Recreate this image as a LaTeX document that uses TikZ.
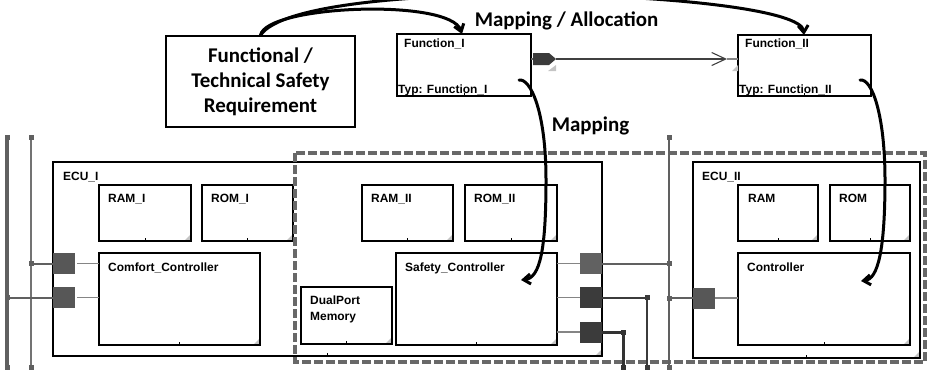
\documentclass[tikz,border=0pt]{standalone}
\usepackage{fontspec}
\setmainfont{Liberation Sans}
\newfontfamily\reqfont{Carlito}
\usetikzlibrary{arrows.meta,calc}

\definecolor{portgray}{HTML}{575757}
\definecolor{portdark}{HTML}{3B3B3B}
\definecolor{wiregray}{HTML}{606060}
\definecolor{wirelight}{HTML}{858585}
\definecolor{dashgray}{HTML}{686868}
\definecolor{cornergray}{HTML}{C4C4C4}

% rectangular block with a small tick at the middle of its bottom edge
\newcommand\mkbox[6][blk]{%
  \pgfmathsetmacro\boxw{#5-#3}\pgfmathsetmacro\boxh{#6-#4}%
  \node[#1, minimum width=\boxw bp, minimum height=\boxh bp, anchor=north west] (#2) at (#3,#4) {};
  \draw[blkline] (#2.south) -- ++(0,-3);
}
% light grey corner mark in the lower right corner
\newcommand\mkcorner[2]{\fill[cornergray] (#1-7,#2) -- (#1,#2-7) -- (#1,#2) -- cycle;}

\begin{document}
\begin{tikzpicture}[x=1bp,y=-1bp,
  blk/.style={draw=black, line width=1.3bp, inner sep=0, outer sep=0, rectangle},
  ecu/.style={blk, line width=1.6bp},
  blkline/.style={black, line width=1bp},
  lbl/.style={font=\fontsize{12}{13}\selectfont\bfseries, inner sep=0, anchor=base west},
  bigtxt/.style={font=\reqfont\fontsize{21}{25}\selectfont\bfseries, inner sep=0},
  maparrow/.style={line width=3bp, line cap=round, -{Straight Barb[length=7bp,width=10bp]}},
  portsq/.style={fill=portgray, draw=none, minimum width=22bp, minimum height=21bp, inner sep=0, outer sep=0},
  jdot/.style={fill=wiregray, draw=none, minimum size=5bp, inner sep=0, outer sep=0},
  wire/.style={draw=wiregray, line width=2bp},
  thinwire/.style={draw=wirelight, line width=1.6bp},
  dashbox/.style={draw=dashgray, line width=3.2bp, dash pattern=on 9bp off 3bp}
]
\useasboundingbox (0,0) rectangle (927,371);

% ---------- requirement and functions ----------
\node[draw=black, line width=1.4bp, minimum width=189bp, minimum height=91bp,
      align=center, bigtxt, inner sep=0] (req) at (260.5,81.5)
      {Functional /\\Technical Safety\\Requirement};

\mkbox{fi}{397}{34}{531}{96}
\node[lbl] at (404,47) {Function\_I};
\node[lbl] at (398,93) {Typ: Function\_I};

\mkbox{fii}{738}{35}{871}{96}
\node[lbl] at (745,47) {Function\_II};
\node[lbl] at (739,93) {Typ: Function\_II};

% output port of Function_I and the data flow to Function_II
\draw[wiregray, line width=1.2bp] (fi.east |- 0,59) -- (534,59);
\fill[portdark] (533,53) -- (549,53) -- (556,59) -- (549,65) -- (533,65) -- cycle;
\fill[cornergray] (548,71) -- (556,65) -- (556,71) -- cycle;
\coordinate (fiport) at (556,59);
\coordinate (fiiin) at (727,59);
\draw[black!75, line width=1.2bp, -{Straight Barb[length=14bp,width=13bp,line width=1.1bp]}] (fiport) -- (fiiin);
\draw[wirelight, line width=1.2bp] (fiiin) -- (fii.west |- fiiin);
\fill[cornergray] (732,71) -- (738,65) -- (738,71) -- cycle;

\node[bigtxt, anchor=base] at (566.5,26) {Mapping / Allocation};
\node[bigtxt, anchor=base] at (590.5,131) {Mapping};

% ---------- ECU_I ----------
\mkcorner{602}{356}
\mkbox[ecu]{ecua}{53}{162}{602}{356}
\node[lbl] at (63,180) {ECU\_I};

\mkcorner{191}{241}\mkbox{rama}{99}{185}{191}{241}
\node[lbl] at (108,202) {RAM\_I};
\mkcorner{293}{241}\mkbox{roma}{202}{185}{293}{241}
\node[lbl] at (211,202) {ROM\_I};
\mkcorner{260}{345}\mkbox{cc}{99}{253}{260}{345}
\node[lbl] at (108,271) {Comfort\_Controller};

\mkcorner{453}{241}\mkbox{ramb}{362}{185}{453}{241}
\node[lbl] at (371,202) {RAM\_II};
\mkcorner{557}{241}\mkbox{romb}{465}{185}{557}{241}
\node[lbl] at (474,202) {ROM\_II};
\mkcorner{557}{345}\mkbox{sc}{396}{253}{557}{345}
\node[lbl] at (405,271) {Safety\_Controller};
\mkcorner{392}{344}\mkbox{dpm}{301}{287}{392}{344}
\node[lbl] at (310,304) {DualPort};
\node[lbl] at (310,320) {Memory};

% ---------- ECU_II ----------
\mkcorner{920}{358}
\mkbox[ecu]{ecub}{693}{162}{920}{358}
\node[lbl] at (702,180) {ECU\_II};
\mkcorner{818}{241}\mkbox{ramc}{738}{185}{818}{241}
\node[lbl] at (748,202) {RAM};
\mkcorner{910}{241}\mkbox{romc}{830}{185}{910}{241}
\node[lbl] at (839,202) {ROM};
\mkcorner{910}{345}\mkbox{ctl}{738}{253}{910}{345}
\node[lbl] at (747,271) {Controller};

% ---------- deployment boundary ----------
\draw[dashbox] (295,153) rectangle (925,362);

% ---------- left buses ----------
\node[jdot] (la1) at (7,137) {};
\node[jdot] (la2) at (7,367) {};
\node[jdot] (lb1) at (31,137) {};
\node[jdot] (lb2) at (31,367) {};
\draw[wiregray, line width=3.6bp] (la1) -- (la2);
\draw[wire, draw=black!55] (lb1) -- (lb2);
\node[jdot] (lj1) at (31,263.5) {};
\node[jdot] (lj2) at (7,297.5) {};

\node[portsq] (pl1) at (64,263.5) {};
\node[portsq] (pl2) at (64,297.5) {};
\draw[wire] (lj1.center) -- (pl1.west);
\draw[wire] (lj2.center) -- (pl2.west);
\draw[thinwire] ([xshift=2bp]pl1.east) -- (cc.west |- pl1.east);
\draw[thinwire] ([xshift=2bp]pl2.east) -- (cc.west |- pl2.east);

% ---------- right buses ----------
\node[portsq, fill=black!62] (pr1) at (590.5,263.5) {};
\node[portsq, fill=portdark] (pr2) at (590.5,297.5) {};
\node[portsq, fill=portdark] (pr3) at (590.5,332) {};
\draw[thinwire] (sc.east |- pr1) -- (pr1.west);
\draw[thinwire] (sc.east |- pr2) -- (pr2.west);
\draw[thinwire] (sc.east |- pr3) -- (pr3.west);

\node[jdot] (bt) at (669,137) {};
\node[jdot] (bb) at (669,367) {};
\node[jdot] (rj1) at (669,263.5) {};
\node[jdot] (rj4) at (669,298) {};
\node[jdot, fill=portdark] (rj2) at (647,297.5) {};
\node[jdot, fill=portdark] (rb2) at (647,367) {};
\node[jdot, fill=black!80] (rj3) at (623,332) {};
\node[jdot, fill=black!80] (rb3) at (623,367) {};
\draw[wire] (bt) -- (bb);
\draw[wire] (pr1.east) -- (rj1.center);
\draw[wire, draw=portdark] (pr2.east) -- (rj2.center);
\draw[wire, draw=portdark, line width=2.4bp] (rj2.center) -- (rb2);
\draw[wire, draw=black!80, line width=3bp] (pr3.east) -- (rj3.center) -- (rb3);

\node[portsq] (pe) at (704,298) {};
\draw[wire] (rj4.center) -- (pe.west);
\draw[thinwire] (pe.east) -- (ctl.west |- pe.east);

% ---------- mapping arcs ----------
\begin{scope}
\clip (0,0) rectangle (927,371);
\draw[maparrow] (req.north) .. controls (266,5) and (450,-2) .. (fi.north -| 462,0);
\draw[maparrow] (req.north) .. controls (300,-26) and (800,-10) .. (fii.north -| 804,0);
\end{scope}
\coordinate (fisrc) at (519,80);
\coordinate (scdst) at (521,280);
\draw[maparrow] (fisrc) .. controls (530,78) and (546,110) .. (546,180)
  .. controls (546,250) and (540,278) .. (scdst);
\coordinate (fiisrc) at (860,80);
\coordinate (ctldst) at (861,281);
\draw[maparrow] (fiisrc) .. controls (872,78) and (885,115) .. (885,180)
  .. controls (885,250) and (878,279) .. (ctldst);
\end{tikzpicture}
\end{document}
